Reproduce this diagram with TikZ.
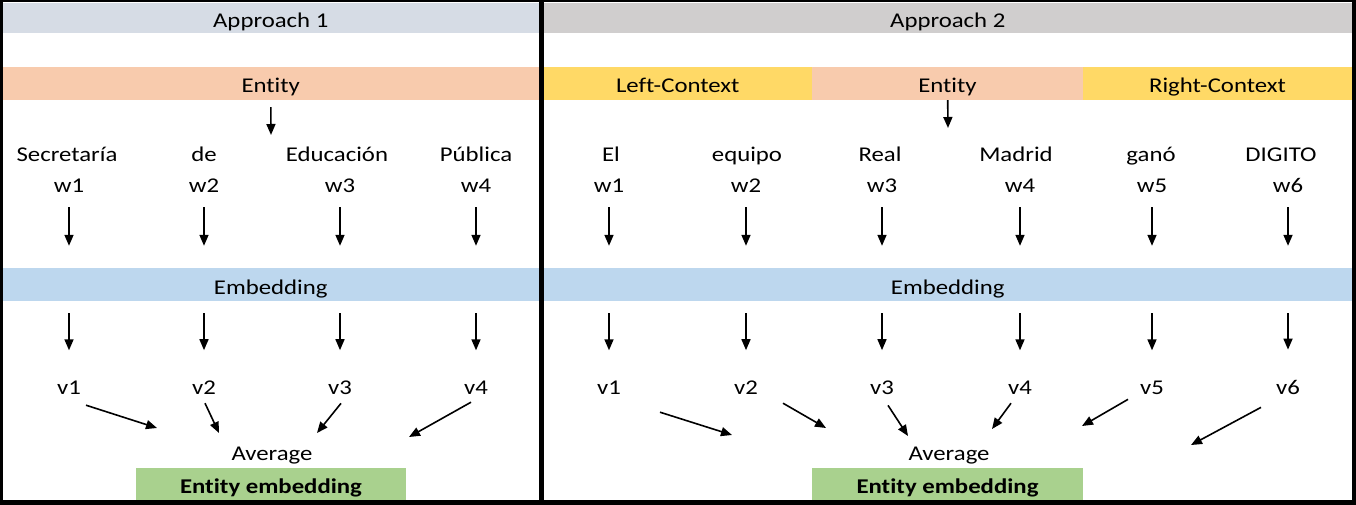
\documentclass[tikz,border=0pt]{standalone}
\usepackage{fontspec}
\setmainfont{Carlito}[FakeStretch=1.18, Ligatures=NoCommon]
\usetikzlibrary{arrows.meta}

\definecolor{headA}{HTML}{D6DCE5}
\definecolor{headB}{HTML}{D0CECE}
\definecolor{entcol}{HTML}{F8CBAD}
\definecolor{ctxcol}{HTML}{FFD966}
\definecolor{embcol}{HTML}{BDD7EE}
\definecolor{outcol}{HTML}{A9D18E}

\tikzset{
	band/.style={inner sep=0pt, minimum height=33pt, text height=20pt, text depth=1pt},
	word/.style={inner sep=0pt, anchor=base},
	arr/.style={-{Triangle[length=11pt,width=9pt]}, line width=1.6pt},
}

\begin{document}
\begin{tikzpicture}[x=1pt,y=-1pt,font=\fontsize{21}{25}\selectfont]
		\useasboundingbox (0,0) rectangle (1356,505);
		\fill[black] (0,0) rectangle (1356,505);
		\fill[white] (2.5,2.5) rectangle (539,500);
		\fill[white] (543.5,2.5) rectangle (1352,500);

		% Approach 1
		\node[band, fill=headA, minimum width=536.5pt, minimum height=30pt] (headA) at (270.75,18) {Approach 1};
		\node[band, fill=entcol, minimum width=536.5pt] (ent1) at (270.75,83.5) {Entity};
		\node[band, fill=embcol, minimum width=536.5pt] (emb1) at (270.75,284.5) {Embedding};
		\node[band, fill=outcol, minimum width=270pt, minimum height=32pt, font=\fontsize{21}{25}\selectfont\bfseries] (out1) at (271,484) {Entity embedding};
		\node[word] (avg1) at (272,460) {Average};

		\coordinate (in1) at (271,135);
		\draw[arr, shorten <=7pt] (ent1) -- (in1);

		\foreach \i/\x/\tx/\word in {1/69/67/Secretaría, 2/204/204/de, 3/340/337/Educación, 4/476/476/Pública} {
			\node[word] (lt\i) at (\tx,162) {\word};
			\node[word] (lw\i) at (\x,193) {w\i};
			\node[word] (lv\i) at (\x,394) {v\i};
			\draw[arr, shorten <=14pt, shorten >=22pt] (lw\i) -- (lw\i |- emb1.north);
			\draw[arr, shorten <=12pt, shorten >=30pt] (lw\i |- emb1.south) -- (lv\i);
		}

		\coordinate (la1) at (157,428);
		\coordinate (la2) at (219,433);
		\coordinate (la3) at (317,433);
		\coordinate (la4) at (409,437);
		\foreach \i/\dx/\dy in {1/17/11, 2/1/9, 3/1/9, 4/-5/8}
		\draw[arr] ([shift={(\dx,\dy)}]lv\i.south) -- (la\i);

		% Approach 2
		\node[band, fill=headB, minimum width=808.5pt, minimum height=30pt] (headB) at (947.75,18) {Approach 2};
		\node[band, fill=ctxcol, minimum width=268.5pt] (lctx) at (677.75,83.5) {Left-Context};
		\node[band, fill=entcol, minimum width=271pt] (ent2) at (947.5,83.5) {Entity};
		\node[band, fill=ctxcol, minimum width=269pt] (rctx) at (1217.5,83.5) {Right-Context};
		\node[band, fill=embcol, minimum width=808.5pt] (emb2) at (947.75,284.5) {Embedding};
		\node[band, fill=outcol, minimum width=271pt, minimum height=32pt, font=\fontsize{21}{25}\selectfont\bfseries] (out2) at (947.5,484) {Entity embedding};
		\node[word] (avg2) at (949,460) {Average};

		\coordinate (in2) at (948,128);
		\draw[arr] (ent2) -- (in2);

		\foreach \i/\x/\tx/\word in {1/609/611/El, 2/746/747/equipo, 3/882/880/Real, 4/1020/1016/Madrid, 5/1152/1151/ganó, 6/1288/1281/DIGITO} {
			\node[word] (rt\i) at (\tx,162) {\word};
			\node[word] (rw\i) at (\x,193) {w\i};
			\node[word] (rv\i) at (\x,394) {v\i};
			\draw[arr, shorten <=14pt, shorten >=22pt] (rw\i) -- (rw\i |- emb2.north);
			\draw[arr, shorten <=12pt, shorten >=30pt] (rw\i |- emb2.south) -- (rv\i);
		}

		\coordinate (ra1) at (732,435);
		\coordinate (ra2) at (826,428);
		\coordinate (ra3) at (908,436);
		\coordinate (ra4) at (992,429);
		\coordinate (ra5) at (1082,426);
		\coordinate (ra6) at (1191,445);
		\foreach \i/\dx/\dy in {1/51/18, 2/37/9, 3/6/11, 4/-9/9, 5/-24/5, 6/-27/13}
		\draw[arr] ([shift={(\dx,\dy)}]rv\i.south) -- (ra\i);
	\end{tikzpicture}
\end{document}
